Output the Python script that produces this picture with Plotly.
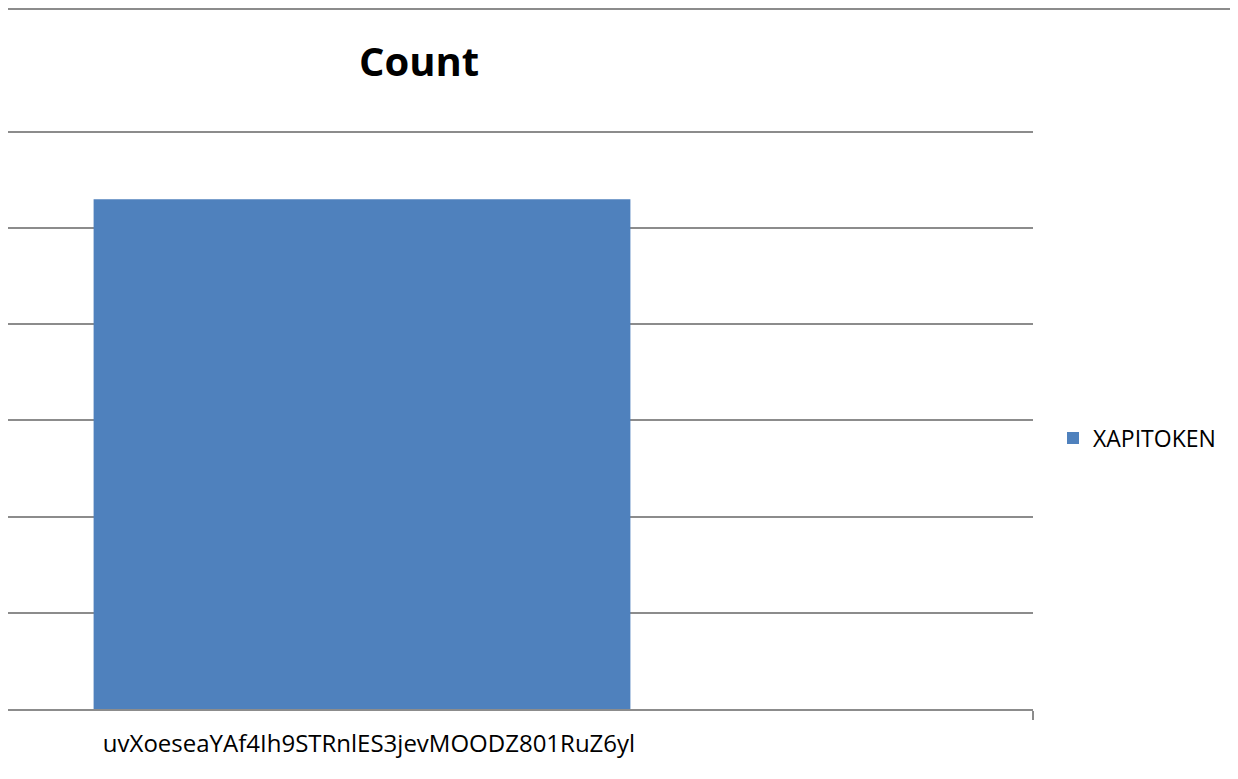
import plotly.graph_objects as go

categories = ["uvXoeseaYAf4Ih9STRnlES3jevMOODZ801RuZ6yl"]
series_name = "XAPITOKEN"
values = [5.3]
y_ticks = [0, 1, 2, 3, 4, 5, 6]

# page has an 8px body margin, so figure coordinates are offset by 8px
W, H = 1230, 771
L, R, T, B = 0, 205, 122, 70
plot_w = W - L - R
plot_h = H - T - B
grid_col = "#8c8c8c"
font_fam = "'Open Sans', Lato, sans-serif"

fig = go.Figure()
fig.add_trace(go.Bar(
    x=categories, y=values, name=series_name,
    marker=dict(color="#4f81bd", line=dict(width=0)),
    width=0.4, showlegend=True,
))

fig.update_layout(
    width=W, height=H,
    margin=dict(l=L, r=R, t=T, b=B, autoexpand=False),
    paper_bgcolor="white", plot_bgcolor="white",
    font=dict(family=font_fam, color="#000000", size=20),
    title=dict(text="<b>Count</b>", xref="container", yref="container",
               x=411 / W, y=1 - 54 / H, xanchor="center", yanchor="middle",
               font=dict(size=40, family=font_fam, color="#000000")),
    showlegend=True,
    legend=dict(x=(1045 - L) / plot_w, y=(701 - 430) / plot_h, xref="paper", yref="paper",
                xanchor="left", yanchor="middle", font=dict(size=23),
                itemwidth=30, bgcolor="rgba(0,0,0,0)"),
)

fig.update_xaxes(
    type="category",
    range=[-(362 - 8) / 1342, 0.5],
    showline=True, linecolor=grid_col, linewidth=2,
    showgrid=False, zeroline=False,
    ticks="outside", tickson="boundaries", ticklen=9, tickcolor=grid_col, tickwidth=2,
    ticklabelstandoff=12, ticklabelshift=7,
    tickfont=dict(size=24),
)
fig.update_yaxes(
    range=[0, 6.02], tickvals=y_ticks, showticklabels=False,
    showgrid=True, gridcolor=grid_col, gridwidth=2,
    zeroline=False, showline=False, ticks="",
)

# top border line of chart area
top_y = (H - B - 1) / plot_h
fig.add_shape(type="line", xref="paper", yref="paper",
              x0=0, x1=(W - L) / plot_w, y0=top_y, y1=top_y,
              line=dict(color=grid_col, width=2))

fig.write_html("out.html")
